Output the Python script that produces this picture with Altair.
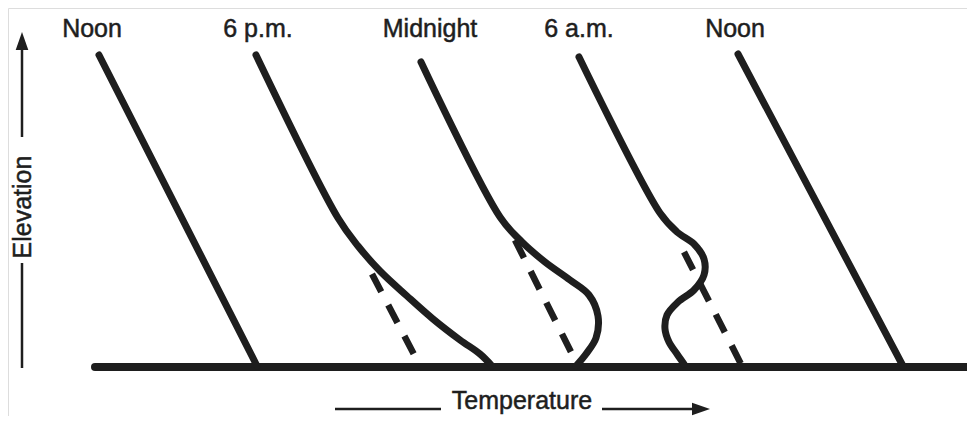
import altair as alt
import pandas as pd

GROUND = 367  # pixel row of the ground line; elevation = GROUND - row

# --- profile data (temperature ~ x position, row ~ vertical position) ---
noon1_t = [99, 257]
noon1_r = [55, 366]

pm6_t = [256, 338, 358, 380, 407, 433, 460, 480, 492]
pm6_r = [55, 218, 246, 271, 296, 319, 340, 354, 366]
pm6_dash_t = [372, 420]
pm6_dash_r = [274, 366]

mid_t = [421, 500, 522, 545, 570, 589, 598, 596, 586, 576]
mid_r = [62, 217, 242, 262, 280, 295, 316, 338, 354, 366]
mid_dash_t = [515, 578]
mid_dash_r = [240, 366]

am6_t = [579, 660, 677, 694, 704, 704, 694, 678, 667, 665, 669, 677, 684]
am6_r = [57, 213, 232, 244, 259, 275, 290, 302, 315, 329, 342, 354, 364]
am6_dash_t = [684, 742]
am6_dash_r = [252, 366]

noon2_t = [738, 903]
noon2_r = [54, 366]

labels = ["Noon", "6 p.m.", "Midnight", "6 a.m.", "Noon"]
label_t = [92, 258, 430, 579, 735]
label_r = [37, 37, 37, 37, 37]


def profile(name, ts, rs):
    return pd.DataFrame({"series": name, "i": range(len(ts)), "t": ts,
                         "e": [GROUND - r for r in rs]})


solid = pd.concat([
    profile("noon1", noon1_t, noon1_r),
    profile("pm6", pm6_t, pm6_r),
    profile("mid", mid_t, mid_r),
    profile("am6", am6_t, am6_r),
    profile("noon2", noon2_t, noon2_r),
])
dashed = pd.concat([
    profile("pm6d", pm6_dash_t, pm6_dash_r),
    profile("midd", mid_dash_t, mid_dash_r),
    profile("am6d", am6_dash_t, am6_dash_r),
])

xs = alt.Scale(domain=[8, 967], nice=False, zero=False)
ys = alt.Scale(domain=[GROUND - 416, GROUND - 8], nice=False, zero=False)
X = lambda f: alt.X(f, type="quantitative", scale=xs, axis=None)
Y = lambda f: alt.Y(f, type="quantitative", scale=ys, axis=None)
INK = "#1e1e1e"
FONT = dict(font="Liberation Sans", fontSize=25, color=INK, stroke=INK, strokeWidth=0.5)

ground_df = pd.DataFrame({"t": [95], "t2": [975], "e": [0]})
ground = alt.Chart(ground_df).mark_rule(strokeWidth=8, color=INK, strokeCap="round", clip=False).encode(
    x=X("t"), x2="t2", y=Y("e"))

dash_layer = alt.Chart(dashed).mark_line(strokeWidth=6.5, color=INK, strokeDash=[20, 15], clip=False).encode(
    x=X("t"), y=Y("e"), detail="series:N", order="i:Q")

solid_layer = alt.Chart(solid).mark_line(strokeWidth=7, color=INK, strokeCap="round", strokeJoin="round",
                                        interpolate="catmull-rom", clip=False).encode(
    x=X("t"), y=Y("e"), detail="series:N", order="i:Q")

lab_df = pd.DataFrame({"label": labels, "t": label_t, "e": [GROUND - r for r in label_r]})
lab_layer = alt.Chart(lab_df).mark_text(baseline="alphabetic", align="center", **FONT).encode(
    x=X("t"), y=Y("e"), text="label:N")

# axis labels with arrows
elev_df = pd.DataFrame({"label": ["Elevation"], "t": [23], "e": [GROUND - 207]})
elev_text = alt.Chart(elev_df).mark_text(angle=270, baseline="middle", align="center", **FONT).encode(
    x=X("t"), y=Y("e"), text="label:N")
temp_df = pd.DataFrame({"label": ["Temperature"], "t": [522], "e": [GROUND - 409]})
temp_text = alt.Chart(temp_df).mark_text(baseline="alphabetic", align="center", **FONT).encode(
    x=X("t"), y=Y("e"), text="label:N")

shaft_df = pd.DataFrame({
    "t": [22, 22, 335, 602],
    "t2": [22, 22, 441, 700],
    "e": [GROUND - 368, GROUND - 137, GROUND - 409, GROUND - 409],
    "e2": [GROUND - 263, GROUND - 45, GROUND - 409, GROUND - 409],
})
shafts = alt.Chart(shaft_df).mark_rule(strokeWidth=2.5, color=INK, clip=False).encode(
    x=X("t"), x2="t2", y=Y("e"), y2="e2")

up_df = pd.DataFrame({"t": [22], "e": [GROUND - 41]})
up_head = alt.Chart(up_df).mark_point(shape="M0,-1L0.7,1L-0.7,1Z", size=324, filled=True, opacity=1,
                                      color=INK, clip=False).encode(x=X("t"), y=Y("e"))
right_df = pd.DataFrame({"t": [701], "e": [GROUND - 409]})
right_head = alt.Chart(right_df).mark_point(shape="M1,0L-1,0.7L-1,-0.7Z", size=324, filled=True, opacity=1,
                                            color=INK, clip=False).encode(x=X("t"), y=Y("e"))

chart = alt.layer(ground, dash_layer, solid_layer, lab_layer, elev_text, temp_text, shafts, up_head, right_head
                  ).properties(width=959, height=408, padding=0, autosize=alt.AutoSizeParams(type="none")
                  ).configure_view(stroke=None).configure(background="white")

chart.save("out.html", embed_options={"renderer": "svg", "actions": False})
